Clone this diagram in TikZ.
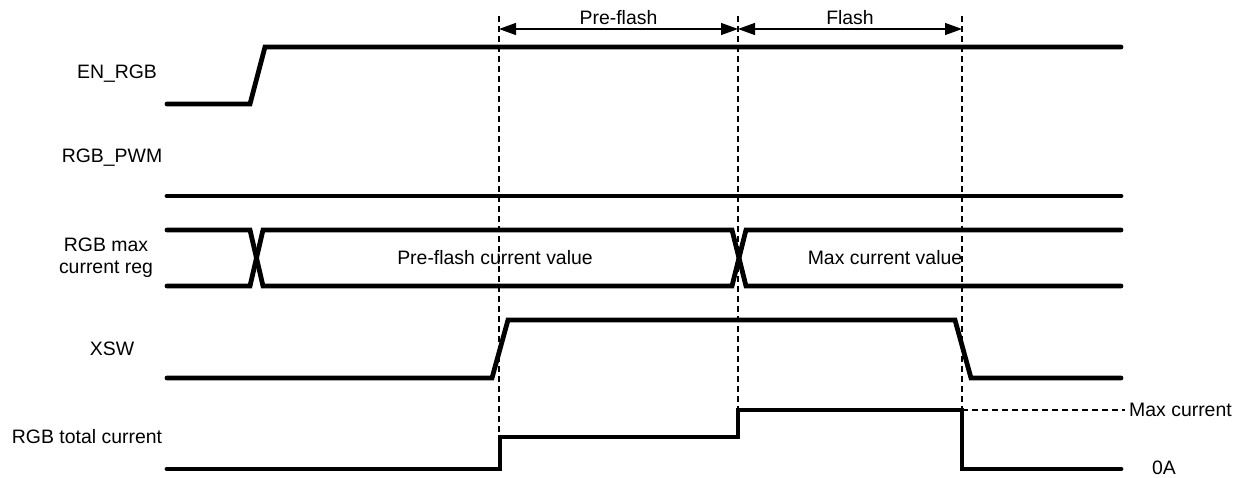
\documentclass[tikz,border=0pt]{standalone}
\usepackage{fontspec}
\setmainfont{Liberation Sans}
\usetikzlibrary{arrows.meta}
\begin{document}
\begin{tikzpicture}[x=1bp,y=-1bp,
  sig/.style={line width=4.8bp,line cap=round,line join=miter},
  guide/.style={line width=1.2bp,dash pattern=on 6bp off 4bp},
  dim/.style={line width=1.2bp,{Triangle[length=17bp,width=12bp]}-{Triangle[length=17bp,width=12bp]}},
  lbl/.style={font=\fontsize{19.5}{22}\selectfont,align=center,inner sep=0pt},
]
\useasboundingbox (0,0) rectangle (1249,478);
% time markers
\coordinate (t1top) at (499,16);
\coordinate (t2top) at (738,16);
\coordinate (t3top) at (962,16);
\coordinate (t1bot) at (499,437);
\coordinate (t2bot) at (738,410);
\coordinate (t3bot) at (962,410);
\coordinate (a1) at (499,29);
\coordinate (a2) at (738,29);
\coordinate (a3) at (962,29);
\draw[guide] (t1top) -- (t1bot);
\draw[guide] (t2top) -- (t2bot);
\draw[guide] (t3top) -- (t3bot);
\draw[dim] (a1) -- (a2) node[midway,above=4bp,lbl] (pf) {Pre-flash};
\draw[dim] (a2) -- (a3) node[midway,above=4bp,lbl] (fl) {Flash};
% labels
\node[lbl] (en) at (117,74) {EN\_RGB};
\node[lbl] (pwm) at (112,158) {RGB\_PWM};
\node[lbl] (reg) at (106,258) {RGB max\\current reg};
\node[lbl] (xsw) at (112,349) {XSW};
\node[lbl] (tot) at (87,437) {RGB total current};
% EN_RGB
\draw[sig] (167,104) -- (250,104) -- (265,47) -- (1121,47);
% RGB_PWM
\draw[sig] (167,196) -- (1121,196);
% RGB max current reg
\draw[sig] (167,230) -- (250,230) -- (263,286) -- (732,286) -- (746,230) -- (1121,230);
\draw[sig] (167,286) -- (250,286) -- (263,230) -- (732,230) -- (746,286) -- (1121,286);
\node[lbl] (pcv) at (495,258) {Pre-flash current value};
\node[lbl] (mcv) at (885,258) {Max current value};
% XSW
\draw[sig] (167,378) -- (492,378) -- (508,320) -- (955,320) -- (971,378) -- (1121,378);
% RGB total current
\draw[sig] (167,469) -- (500,469) -- (500,437) -- (738,437) -- (738,410) -- (962,410) -- (962,469) -- (1121,469);
\coordinate (mc) at (1125,410);
\draw[guide] (t3bot) -- (mc);
\node[lbl,anchor=west] (mcl) at (1129,410) {Max current};
\node[lbl] (za) at (1164,468) {0A};
\end{tikzpicture}
\end{document}
